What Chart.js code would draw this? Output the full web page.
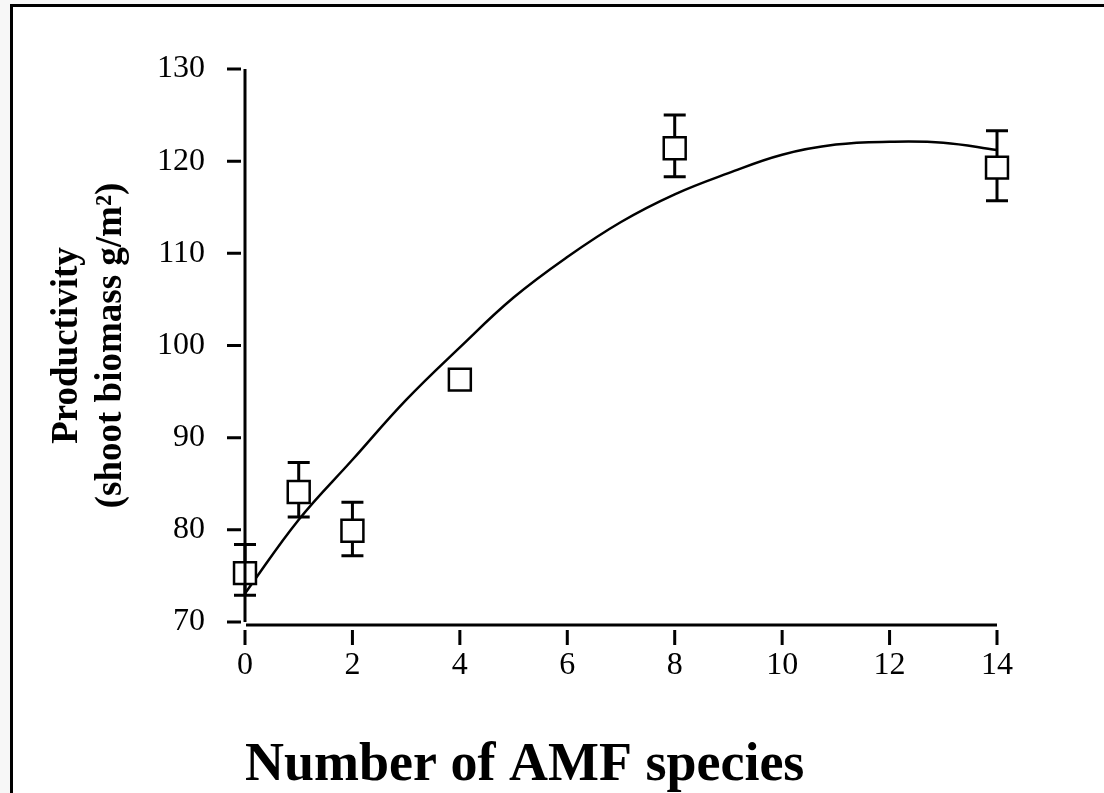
<!DOCTYPE html>
<html>
<head>
<meta charset="utf-8">
<script src="https://cdn.jsdelivr.net/npm/chart.js@4.4.1/dist/chart.umd.min.js"></script>
<style>
  html, body { margin: 0; padding: 0; background: #f7f7f7; overflow: hidden; }
  #frame { position: absolute; left: 10px; top: 4px; width: 1200px; height: 900px; border: 3px solid #000; background: #fff; }
  #wrap { position: absolute; left: 0; top: 0; width: 1104px; height: 793px; }
</style>
</head>
<body>
<div id="frame"></div>
<div id="wrap"><canvas id="chart" width="1104" height="793"></canvas></div>
<script>
// AMF species richness vs shoot biomass
const speciesCounts = [0, 1, 2, 4, 8, 14];
const productivity = [75.3, 84.1, 79.9, 96.3, 121.4, 119.3];
const errorHigh = [78.4, 87.3, 83.0, 97.3, 125.0, 123.3];
const errorLow = [72.9, 81.4, 77.2, 95.3, 118.3, 115.7];

// fitted curve
const fitX = [0, 1, 2, 3, 4, 5, 6, 7, 8, 9, 10, 11, 12, 13, 14];
const fitY = [73.1, 81.1, 87.6, 94.1, 99.8, 105.2, 109.6, 113.4, 116.4, 118.7, 120.7, 121.8, 122.1, 122.0, 121.2];

const xTicks = [0, 2, 4, 6, 8, 10, 12, 14];
const yTicks = [70, 80, 90, 100, 110, 120, 130];

const serif = '"Liberation Serif", "Times New Roman", serif';

// error bars with caps, drawn under the squares
const errorBars = {
  id: 'errorBars',
  beforeDatasetsDraw(chart) {
    const { ctx, scales: { x, y } } = chart;
    ctx.save();
    ctx.strokeStyle = '#000';
    ctx.lineWidth = 3;
    speciesCounts.forEach((n, i) => {
      const px = x.getPixelForValue(n);
      const hi = y.getPixelForValue(errorHigh[i]);
      const lo = y.getPixelForValue(errorLow[i]);
      ctx.beginPath();
      ctx.moveTo(px, hi); ctx.lineTo(px, lo);
      ctx.moveTo(px - 11, hi); ctx.lineTo(px + 11, hi);
      ctx.moveTo(px - 11, lo); ctx.lineTo(px + 11, lo);
      ctx.stroke();
    });
    ctx.restore();
  }
};

// axis lines and detached tick marks
const axisMarks = {
  id: 'axisMarks',
  afterDraw(chart) {
    const { ctx, chartArea: a, scales: { x, y } } = chart;
    ctx.save();
    ctx.strokeStyle = '#000';
    ctx.lineWidth = 3;
    ctx.beginPath();
    ctx.moveTo(a.left, a.top); ctx.lineTo(a.left, a.bottom);
    ctx.moveTo(a.left + 1, a.bottom + 3); ctx.lineTo(a.right, a.bottom + 3);
    yTicks.forEach(v => {
      const py = y.getPixelForValue(v);
      ctx.moveTo(a.left - 18, py); ctx.lineTo(a.left - 4, py);
    });
    xTicks.forEach(v => {
      const px = x.getPixelForValue(v);
      ctx.moveTo(px, a.bottom + 8); ctx.lineTo(px, a.bottom + 23);
    });
    ctx.stroke();
    ctx.restore();
  }
};

new Chart(document.getElementById('chart'), {
  type: 'scatter',
  data: {
    datasets: [
      {
        data: speciesCounts.map((n, i) => ({ x: n, y: productivity[i] })),
        pointStyle: 'rect',
        pointRadius: 15.5,
        borderWidth: 2.5,
        borderColor: '#000',
        backgroundColor: '#fff',
        clip: false
      },
      {
        type: 'line',
        data: fitX.map((n, i) => ({ x: n, y: fitY[i] })),
        borderColor: '#000',
        borderWidth: 2.5,
        pointRadius: 0,
        tension: 0.4,
        fill: false,
        clip: false
      }
    ]
  },
  options: {
    responsive: false,
    animation: false,
    layout: { padding: { left: 0, top: 69, right: 107, bottom: 0 } },
    plugins: { legend: { display: false }, tooltip: { enabled: false } },
    scales: {
      x: {
        type: 'linear',
        min: 0,
        max: 14,
        afterFit: s => { s.height = 171; },
        afterBuildTicks: s => { s.ticks = xTicks.map(v => ({ value: v })); },
        grid: { display: false, drawTicks: false },
        border: { display: false },
        ticks: { color: '#000', padding: 24, maxRotation: 0, font: { family: serif, size: 32 } },
        title: {
          display: true,
          text: 'Number of AMF species',
          align: 'start',
          color: '#000',
          padding: { top: 0, bottom: 0 },
          font: { family: serif, size: 54, weight: 'bold', lineHeight: 1.0 }
        }
      },
      y: {
        min: 70,
        max: 130,
        afterFit: s => { s.width = 245; },
        afterBuildTicks: s => { s.ticks = yTicks.map(v => ({ value: v })); },
        grid: { display: false, drawTicks: false },
        border: { display: false },
        ticks: { color: '#000', padding: 40, font: { family: serif, size: 32 } },
        title: {
          display: true,
          text: ['Productivity', '(shoot biomass g/m²)'],
          color: '#000',
          padding: { top: 45, bottom: 0 },
          font: { family: serif, size: 37, weight: 'bold', lineHeight: 1.2 }
        }
      }
    }
  },
  plugins: [errorBars, axisMarks]
});
</script>
</body>
</html>
